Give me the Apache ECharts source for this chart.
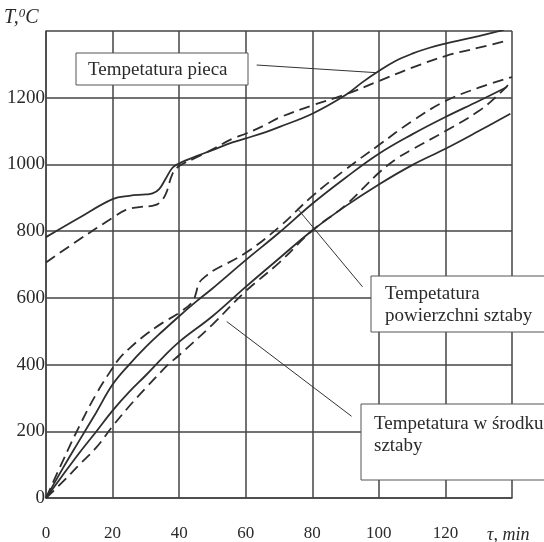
<!DOCTYPE html>
<html>
<head>
<meta charset="utf-8">
<script src="https://cdn.jsdelivr.net/npm/echarts@6/dist/echarts.min.js"></script>
<style>
  html, body { margin: 0; padding: 0; background: #fff; }
  #chart { width: 544px; height: 542px; }
</style>
</head>
<body>
<div id="chart"></div>
<script>
  // temperatura pieca (furnace) - solid / dashed
  const furnaceSolid = [[0, 782], [10, 840], [20, 896], [25, 906], [30, 910], [32, 913], [34, 926], [36, 958], [38, 990], [40, 1003], [42, 1012], [45, 1024], [50, 1043], [56, 1066], [60, 1078], [66, 1097], [70, 1112], [80, 1152], [90, 1208], [95, 1246], [100, 1280], [105, 1310], [110, 1332], [115, 1349], [120, 1362], [130, 1385], [137.5, 1403]]
  const furnaceDashed = [[0, 706], [10, 775], [20, 840], [24, 864], [28, 872], [32, 876], [34, 884], [36, 912], [38, 972], [40, 995], [45, 1020], [50, 1045], [56, 1077], [60, 1092], [66, 1119], [70, 1140], [80, 1177], [90, 1210], [100, 1250], [110, 1290], [120, 1325], [130, 1350], [139, 1372]]
  // temperatura powierzchni sztaby (surface)
  const surfaceSolid = [[0, 0], [5, 88], [10, 172], [15, 255], [20, 340], [25, 400], [30, 453], [35, 500], [40, 545], [45, 588], [50, 628], [60, 713], [70, 795], [80, 882], [90, 960], [100, 1032], [110, 1090], [120, 1142], [130, 1190], [138.5, 1232]]
  const surfaceDashed = [[0, 0], [5, 110], [10, 215], [15, 310], [20, 390], [22, 418], [25, 448], [30, 490], [35, 525], [40, 555], [44, 588], [45, 612], [46, 645], [48, 665], [50, 680], [60, 735], [70, 812], [80, 905], [90, 985], [100, 1058], [110, 1130], [120, 1190], [130, 1230], [140, 1262]]
  // temperatura w srodku sztaby (center)
  const centerSolid = [[0, 0], [5, 68], [10, 135], [15, 198], [20, 262], [25, 318], [30, 368], [35, 420], [40, 468], [50, 545], [60, 633], [70, 718], [80, 802], [90, 875], [100, 940], [110, 998], [120, 1047], [130, 1100], [139.5, 1152]]
  const centerDashed = [[0, 0], [5, 48], [10, 100], [15, 150], [20, 215], [25, 275], [30, 330], [36.7, 400], [40, 428], [50, 520], [60, 620], [70, 705], [80, 802], [90, 878], [100, 975], [105, 1015], [110, 1045], [120, 1100], [130, 1160], [135.7, 1207], [139, 1240]]
  // leader lines of the labels
  const leaderPieca = [[63.3, 1298], [99.3, 1275]]
  const leaderSurface = [[75.6, 867], [95.1, 633]]
  const leaderCenter = [[54.3, 529], [91.8, 245]]

  const xTicks = [0, 20, 40, 60, 80, 100, 120]
  const yTicks = [0, 200, 400, 600, 800, 1000, 1200]

  const serif = '"Liberation Serif", "Times New Roman", serif'
  const ink = '#2a2a2a'
  const gridColor = '#444'

  let chart = echarts.init(document.getElementById('chart'))

  function curve (data, dashed) {
    return {
      type: 'line',
      data: data,
      showSymbol: false,
      smooth: 0.4,
      silent: true,
      lineStyle: { color: '#2e2e2e', width: 1.8, type: dashed ? [11, 6] : 'solid' },
      z: 3
    }
  }

  function leader (data) {
    return {
      type: 'line',
      data: data,
      showSymbol: false,
      silent: true,
      lineStyle: { color: '#333', width: 1 },
      z: 4
    }
  }

  function box (x, y, w, h, lines, tx, ty) {
    return [
      {
        type: 'rect',
        shape: { x: x, y: y, width: w, height: h },
        style: { fill: '#fff', stroke: '#555', lineWidth: 1 },
        z: 100
      },
      {
        type: 'text',
        x: tx,
        y: ty,
        style: { text: lines.join('\n'), font: '19px ' + serif, fill: ink, lineHeight: 22 },
        z: 101
      }
    ]
  }

  chart.setOption({
    animation: false,
    backgroundColor: '#fff',
    grid: { left: 46, right: 32, top: 31, bottom: 42, containLabel: false },
    xAxis: {
      type: 'value',
      min: 0,
      max: 140,
      interval: 20,
      axisLine: { show: true, lineStyle: { color: gridColor, width: 1.5 } },
      axisTick: { show: false },
      splitLine: { show: true, lineStyle: { color: gridColor, width: 1.5 } },
      axisLabel: {
        margin: 27,
        fontFamily: serif,
        fontSize: 17,
        color: ink,
        formatter: function (v) { return xTicks.indexOf(v) >= 0 ? String(v) : '' }
      }
    },
    yAxis: {
      type: 'value',
      min: 0,
      max: 1400,
      interval: 200,
      axisLine: { show: true, lineStyle: { color: gridColor, width: 1.5 } },
      axisTick: { show: false },
      splitLine: { show: true, lineStyle: { color: gridColor, width: 1.5 } },
      axisLabel: {
        margin: 1,
        fontFamily: serif,
        fontSize: 19,
        color: ink,
        padding: [6, 0, 0, 0],
        formatter: function (v) { return yTicks.indexOf(v) >= 0 ? String(v) : '' }
      }
    },
    series: [
      curve(furnaceSolid, false),
      curve(furnaceDashed, true),
      curve(surfaceSolid, false),
      curve(surfaceDashed, true),
      curve(centerSolid, false),
      curve(centerDashed, true),
      leader(leaderPieca),
      leader(leaderSurface),
      leader(leaderCenter)
    ],
    graphic: [
      {
        type: 'text',
        x: 4,
        y: 7,
        style: {
          text: '{a|T,}{b|0}{a|C}',
          rich: {
            a: { font: 'italic 20px ' + serif, fill: ink },
            b: { font: 'italic 13px ' + serif, fill: ink, verticalAlign: 'top', padding: [0, 0, 9, 0] }
          }
        }
      },
      {
        type: 'text',
        x: 487,
        y: 526,
        style: { text: 'τ, min', font: 'italic 18px ' + serif, fill: ink }
      }
    ]
      .concat(box(76, 53, 172, 32, ['Tempetatura pieca'], 88, 59))
      .concat(box(371, 276, 180, 56, ['Tempetatura', 'powierzchni sztaby'], 385, 283))
      .concat(box(361, 404, 190, 76, ['Tempetatura w środku', 'sztaby'], 374, 413))
  })
</script>
</body>
</html>
